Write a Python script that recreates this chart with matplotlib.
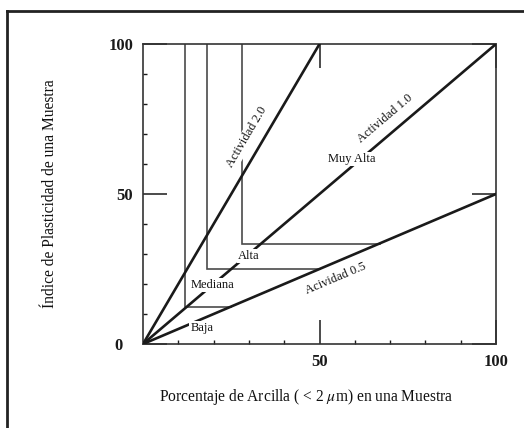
import numpy as np
import matplotlib
matplotlib.use("Agg")
import matplotlib.pyplot as plt
from matplotlib.lines import Line2D
from matplotlib.transforms import ScaledTranslation

plt.rcParams['font.family'] = ['Liberation Serif', 'DejaVu Serif']
plt.rcParams['mathtext.fontset'] = 'stix'

# activity lines (IP = A * % clay)
activity = [2.0, 1.0, 0.5]
act_labels = ["Actividad 2.0", "Actividad 1.0", "Acividad 0.5"]
act_label_pos = [(29.5, 69.0), (68.5, 75.0), (54.5, 21.7)]

# zone boundaries: vertical at clay %, horizontal at IP
bound_x = [12, 18, 28]
bound_y = [12.5, 25, 33.5]

zones = ["Baja", "Mediana", "Alta", "Muy Alta"]
zone_pos = [(16.7, 5.3), (19.8, 19.7), (30.0, 29.3), (59.2, 61.7)]

xticks = [50, 100]
yticks = [0, 50, 100]

fig = plt.figure(figsize=(5.24, 4.28), dpi=100)
ax = fig.add_axes([143 / 524, 84 / 428, 353 / 524, 300 / 428])
ax.set_xlim(0, 100)
ax.set_ylim(0, 100)

# zone boundaries (L shapes ending at Actividad 0.5 line)
for bx, by in zip(bound_x, bound_y):
    ax.plot([bx, bx, by / 0.5], [100, by, by], color='#4a4a4a', lw=1.2,
            solid_joinstyle='miter', zorder=2)

# activity lines
for a in activity:
    x_end = min(100, 100 / a)
    ax.plot([0, x_end], [0, a * x_end], color='#1a1a1a', lw=1.9, zorder=3)

# labels along activity lines
for a, lab, (tx, ty) in zip(activity, act_labels, act_label_pos):
    ang = np.degrees(np.arctan(a))
    rot = ax.transData.transform_angles(np.array([ang]), np.array([[tx, ty]]))[0]
    ax.text(tx, ty, lab, rotation=rot, rotation_mode='anchor', ha='center',
            va='center', fontsize=9, color='#111111', zorder=5,
            bbox=dict(facecolor='white', edgecolor='none', pad=1.0))

for name, (zx, zy) in zip(zones, zone_pos):
    ax.text(zx, zy, name, ha='center', va='center', fontsize=9,
            color='#111111', zorder=5,
            bbox=dict(facecolor='white', edgecolor='none', pad=1.0))

ax.set_xticks(xticks)
ax.set_yticks(yticks)
ax.set_xticks(np.arange(10, 100, 10), minor=True)
ax.set_yticks(np.arange(10, 100, 10), minor=True)
ax.set_xticklabels([str(v) for v in xticks], fontweight='bold')
ax.set_yticklabels([str(v) for v in yticks], fontweight='bold')
ax.tick_params(which='major', direction='in', length=17, width=1.1,
               top=True, right=True, labelsize=12, pad=7, colors='#1a1a1a')
ax.tick_params(which='minor', direction='in', length=3, width=1.0,
               top=False, right=False, colors='#1a1a1a')
for s in ax.spines.values():
    s.set_color('#333333')
    s.set_linewidth(1.2)

# the "0" at the origin sits a bit further left
zero_lab = ax.get_yticklabels()[0]
zero_lab.set_transform(zero_lab.get_transform() +
                       ScaledTranslation(-8 / 72, 0, fig.dpi_scale_trans))

ax.set_xlabel(r"Porcentaje de Arcilla ( < 2 $\mu$m) en una Muestra",
              fontsize=11.2, color='#111111')
ax.set_ylabel("Índice de Plasticidad de una Muestra", fontsize=11.2,
              color='#111111')
ax.xaxis.set_label_coords((306 - 143) / 353, (344 - 397) / 300)
ax.yaxis.set_label_coords((50 - 143) / 353, 0.5)
ax.xaxis.label.set_va('center')
ax.yaxis.label.set_va('center')

# outer frame (cut off at right and bottom)
fig.add_artist(Line2D([7 / 524, 7 / 524], [-0.1, 1 - 11 / 428],
                      transform=fig.transFigure, color='#222222', lw=2))
fig.add_artist(Line2D([7 / 524, 1.1], [1 - 11 / 428, 1 - 11 / 428],
                      transform=fig.transFigure, color='#222222', lw=2))

fig.savefig("out.png", dpi=100)
